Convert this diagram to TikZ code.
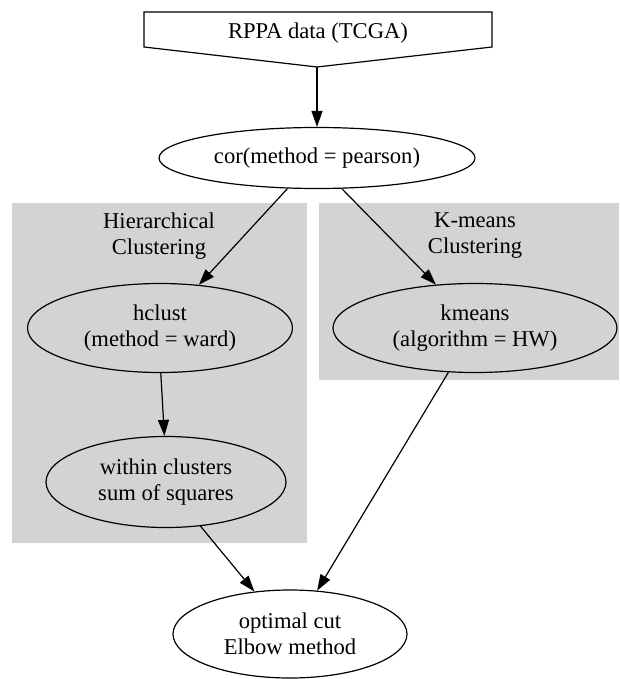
\documentclass[tikz,border=0pt]{standalone}
\usepackage{fontspec}
\setmainfont{Liberation Serif}
\usetikzlibrary{shapes.geometric,arrows.meta}
\definecolor{clustergray}{HTML}{D3D3D3}
\begin{document}
\begin{tikzpicture}[x=1pt,y=-1pt,
  every node/.style={font=\fontsize{22.6}{26}\selectfont, align=center, inner sep=0pt},
  oval/.style={ellipse, draw, line width=1.2pt},
  clusterbox/.style={fill=clustergray, draw=none},
  edge/.style={line width=1.2pt, -{Triangle[length=16pt,width=11pt]}}]
\useasboundingbox (0,0) rectangle (619,679);

% cluster backgrounds
\path[clusterbox] (12,203) rectangle (307,543);
\path[clusterbox] (319,203) rectangle (619,380);
\node (hlabel) at (159,236) {Hierarchical\\Clustering};
\node (klabel) at (475,236) {K-means\\Clustering};

% input data (inverted house)
\draw[line width=1.2pt] (144,12) -- (492,12) -- (492,47) -- (317,67) -- (144,47) -- cycle;
\node (rppa) at (318,33) {RPPA data (TCGA)};
\coordinate (rppatip) at (317,67);

% processing steps
\node[oval, minimum width=316pt, minimum height=61pt] (cor) at (317,158) {cor(method = pearson)};
\node[oval, minimum width=265pt, minimum height=89pt] (hclust) at (160,328) {hclust\\(method = ward)};
\node[oval, minimum width=284pt, minimum height=89pt] (kmeans) at (475,328) {kmeans\\(algorithm = HW)};
\node[oval, minimum width=240pt, minimum height=91pt] (wcss) at (166,482) {within clusters\\sum of squares};
\node[oval, minimum width=234pt, minimum height=88pt] (optimal) at (290,634) {optimal cut\\Elbow method};

% connectors
\draw[edge] (rppatip) -- (cor.north);
\draw[edge] (cor.226) -- (hclust.48);
\draw[edge] (cor.309) -- (kmeans.132);
\draw[edge] (hclust.271) -- (wcss.92);
\draw[edge] (wcss.-52) -- (optimal.130);
\draw[edge] (kmeans.-121) -- (optimal.58);
\end{tikzpicture}
\end{document}
